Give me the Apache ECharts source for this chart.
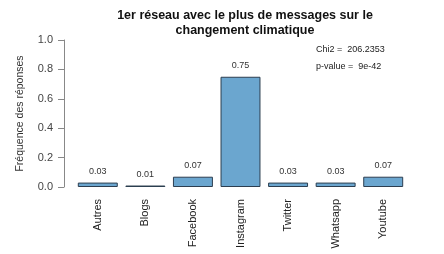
<!DOCTYPE html>
<html><head><meta charset="utf-8">
<script src="https://cdn.jsdelivr.net/npm/echarts@6/dist/echarts.min.js"></script>
<style>html,body{margin:0;padding:0;background:#fff}#c{width:444px;height:254px}</style>
</head><body><div id="c"></div>
<script>
const categories = ["Autres","Blogs","Facebook","Instagram","Twitter","Whatsapp","Youtube"];
const values = [0.03, 0.01, 0.07, 0.75, 0.03, 0.03, 0.07];
const yTicks = [0.0, 0.2, 0.4, 0.6, 0.8, 1.0];
const statLines = ["Chi2 =  206.2353", "p-value =  9e-42"];
const F = "Liberation Sans, Arial, sans-serif";
const chart = echarts.init(document.getElementById('c'));
chart.setOption({
  animation:false,
  title:{text:"1er réseau avec le plus de messages sur le\nchangement climatique", left:240, textAlign:'center', top:3,
    textStyle:{fontFamily:F,fontSize:12.5,fontWeight:'bold',color:'#111',lineHeight:15}},
  grid:{left:74,right:37,top:40,bottom:67,containLabel:false},
  xAxis:{type:'category',data:categories,axisLine:{show:false},axisTick:{show:false},
    axisLabel:{rotate:90,margin:12,fontFamily:F,fontSize:11,color:'#222'}},
  yAxis:{type:'value',min:0,max:1,interval:0.2,offset:10,
    name:"Fréquence des réponses",nameLocation:'middle',nameGap:38,
    nameTextStyle:{fontFamily:F,fontSize:10.5,color:'#333'},
    axisLine:{show:true,lineStyle:{color:'#888'}},axisTick:{show:true,length:6,lineStyle:{color:'#888'}},
    splitLine:{show:false},
    axisLabel:{margin:11,fontFamily:F,fontSize:11,color:'#444',formatter:v=>v.toFixed(1)}},
  series:[{type:'bar',data:values,barCategoryGap:'16%',
    itemStyle:{color:'#6ba6cf',borderColor:'#2c3e50',borderWidth:1},
    label:{show:true,position:'top',distance:7,fontFamily:F,fontSize:9,color:'#333',formatter:p=>p.value.toFixed(2)}}],
  graphic:[
    {type:'text',left:316,top:45,style:{text:statLines[0],font:'9px '+F,fill:'#222'}},
    {type:'text',left:316,top:62,style:{text:statLines[1],font:'9px '+F,fill:'#222'}}
  ]
});
</script></body></html>
